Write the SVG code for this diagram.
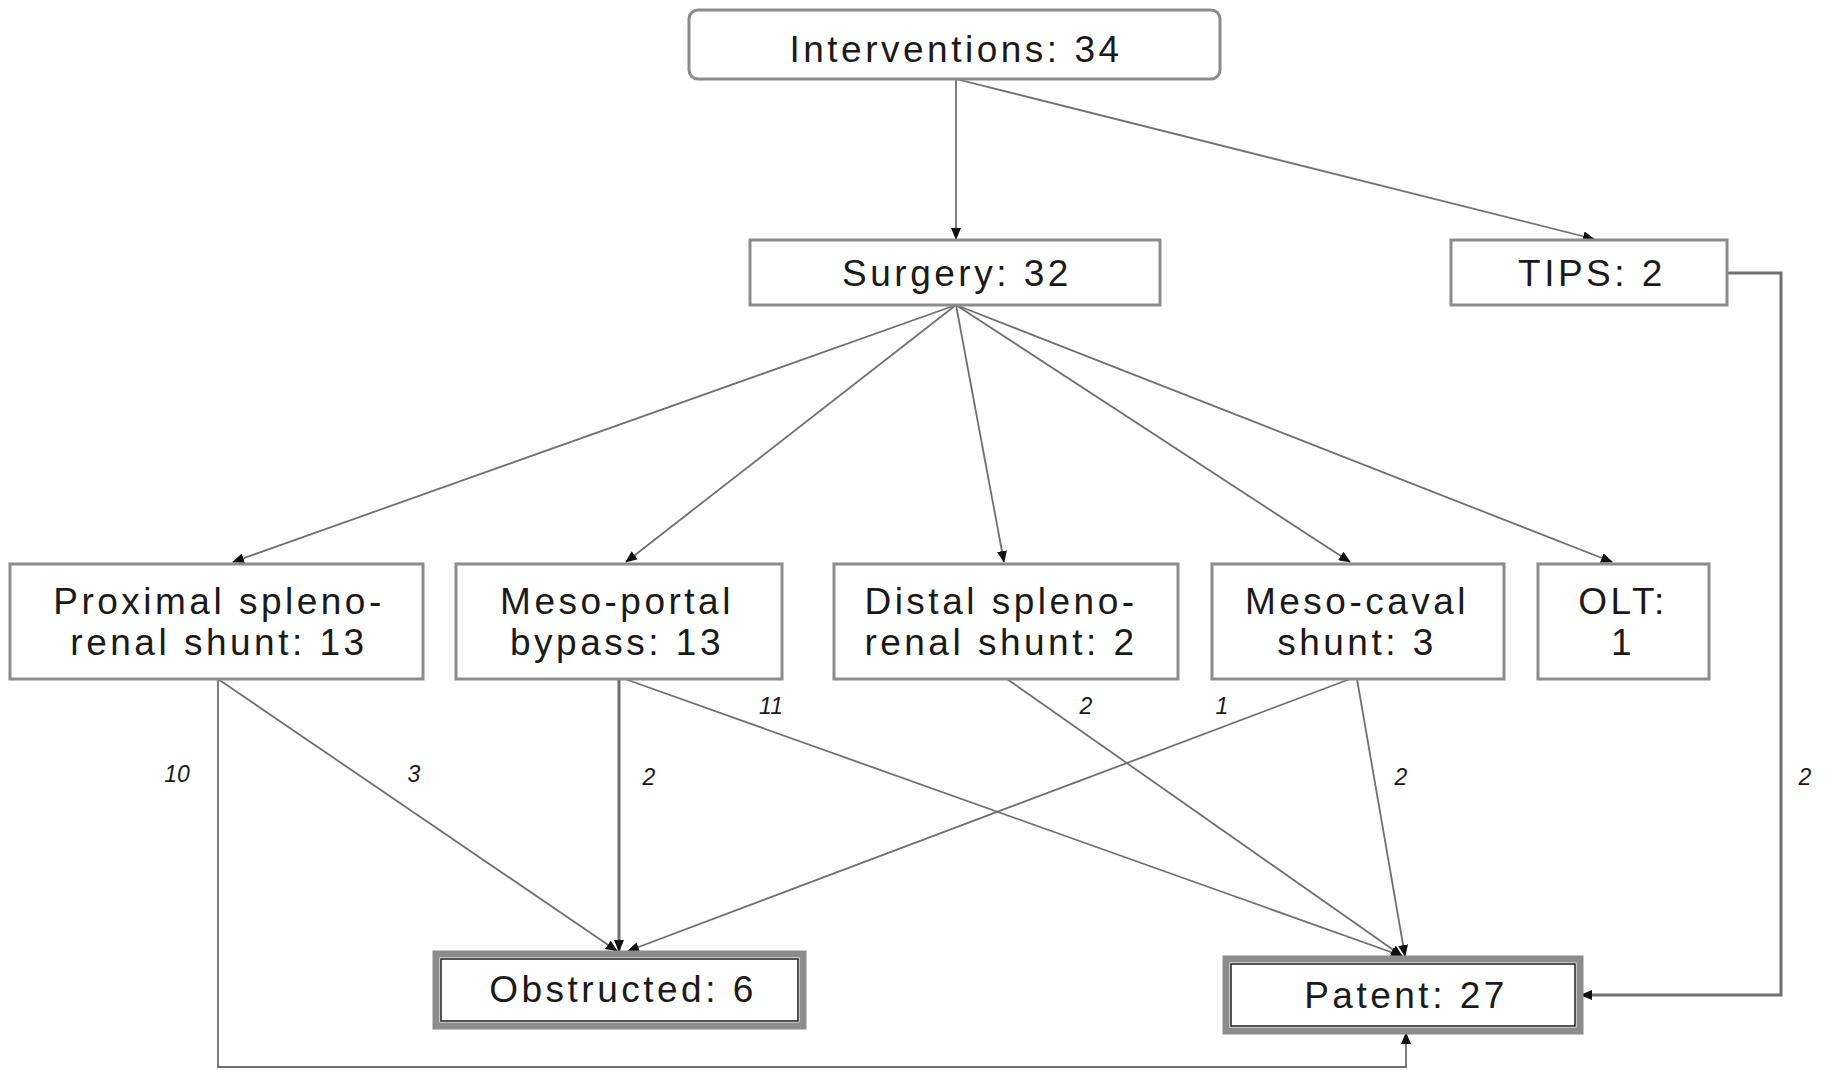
<svg xmlns="http://www.w3.org/2000/svg" width="1825" height="1070" viewBox="0 0 1825 1070">
  <style>
    .box { fill: #ffffff; stroke: #8c8c8c; stroke-width: 3; }
    .outer { fill: #ffffff; stroke: #8c8c8c; stroke-width: 7; }
    .inner { fill: none; stroke: #2a2a2a; stroke-width: 1.6; }
    .lbl { font-family: "Liberation Sans", Arial, sans-serif; font-size: 37px; letter-spacing: 3.5px; fill: #1a1a1a; text-anchor: middle; }
    .num { font-family: "Liberation Sans", Arial, sans-serif; font-style: italic; font-size: 23px; fill: #1a1a1a; text-anchor: middle; }
    .edge { stroke: #707070; stroke-width: 1.8; fill: none; marker-end: url(#arr); }
    .thick { stroke-width: 3; }
  </style>
  <defs>
    <marker id="arr" markerUnits="userSpaceOnUse" markerWidth="12" markerHeight="10" refX="11" refY="5" orient="auto">
      <path d="M0,0 L12,5 L0,10 z" fill="#111"/>
    </marker>
  </defs>

  <rect width="1825" height="1070" fill="#ffffff"/>

  <!-- connectors -->
  <g id="connectors">
    <line class="edge" x1="956" y1="79" x2="956" y2="239"/>
    <line class="edge" x1="956" y1="79" x2="1594" y2="239"/>

    <line class="edge" x1="956" y1="305" x2="233" y2="562"/>
    <line class="edge" x1="956" y1="305" x2="626" y2="562"/>
    <line class="edge" x1="956" y1="305" x2="1004" y2="562"/>
    <line class="edge" x1="956" y1="305" x2="1350" y2="562"/>
    <line class="edge" x1="956" y1="305" x2="1612" y2="562"/>

    <!-- proximal spleno-renal -->
    <polyline class="edge" points="218,679 218,1067 1406,1067 1406,1033"/>
    <line class="edge" x1="218" y1="679" x2="617" y2="951"/>
    <!-- meso-portal -->
    <line class="edge thick" x1="619" y1="679" x2="619" y2="951"/>
    <line class="edge" x1="625" y1="679" x2="1402" y2="956"/>
    <!-- distal spleno-renal -->
    <line class="edge" x1="1007" y1="679" x2="1402" y2="956"/>
    <!-- meso-caval -->
    <line class="edge" x1="1350" y1="679" x2="628" y2="951"/>
    <line class="edge" x1="1357" y1="679" x2="1405" y2="956"/>
    <!-- TIPS -->
    <polyline class="edge thick" points="1727,273 1781,273 1781,995 1581,995"/>

    <text class="num" x="177" y="782">10</text>
    <text class="num" x="414" y="782">3</text>
    <text class="num" x="649" y="785">2</text>
    <text class="num" x="771" y="714">11</text>
    <text class="num" x="1086" y="714">2</text>
    <text class="num" x="1222" y="714">1</text>
    <text class="num" x="1401" y="785">2</text>
    <text class="num" x="1805" y="785">2</text>
  </g>

  <g id="interventions">
    <rect class="box" x="689" y="10" width="531" height="69" rx="9"/>
    <text class="lbl" x="956" y="62">Interventions: 34</text>
  </g>

  <g id="surgery">
    <rect class="box" x="750" y="240" width="410" height="65"/>
    <text class="lbl" x="957" y="286">Surgery: 32</text>
  </g>

  <g id="tips">
    <rect class="box" x="1451" y="240" width="276" height="65"/>
    <text class="lbl" x="1592" y="286">TIPS: 2</text>
  </g>

  <g id="proximal">
    <rect class="box" x="10" y="564" width="413" height="115"/>
    <text class="lbl" x="219" y="614">Proximal spleno-</text>
    <text class="lbl" x="219" y="655">renal shunt: 13</text>
  </g>

  <g id="mesoportal">
    <rect class="box" x="456" y="564" width="326" height="115"/>
    <text class="lbl" x="617" y="614">Meso-portal</text>
    <text class="lbl" x="617" y="655">bypass: 13</text>
  </g>

  <g id="distal">
    <rect class="box" x="834" y="564" width="344" height="115"/>
    <text class="lbl" x="1001" y="614">Distal spleno-</text>
    <text class="lbl" x="1001" y="655">renal shunt: 2</text>
  </g>

  <g id="mesocaval">
    <rect class="box" x="1212" y="564" width="292" height="115"/>
    <text class="lbl" x="1357" y="614">Meso-caval</text>
    <text class="lbl" x="1357" y="655">shunt: 3</text>
  </g>

  <g id="olt">
    <rect class="box" x="1538" y="564" width="171" height="115"/>
    <text class="lbl" x="1623" y="614">OLT:</text>
    <text class="lbl" x="1623" y="655">1</text>
  </g>

  <g id="obstructed">
    <rect class="outer" x="436" y="954" width="367" height="72"/>
    <rect class="inner" x="441" y="959" width="357" height="62"/>
    <text class="lbl" x="623" y="1002">Obstructed: 6</text>
  </g>

  <g id="patent">
    <rect class="outer" x="1226" y="959" width="354" height="72"/>
    <rect class="inner" x="1231" y="964" width="344" height="62"/>
    <text class="lbl" x="1406" y="1008">Patent: 27</text>
  </g>
</svg>
